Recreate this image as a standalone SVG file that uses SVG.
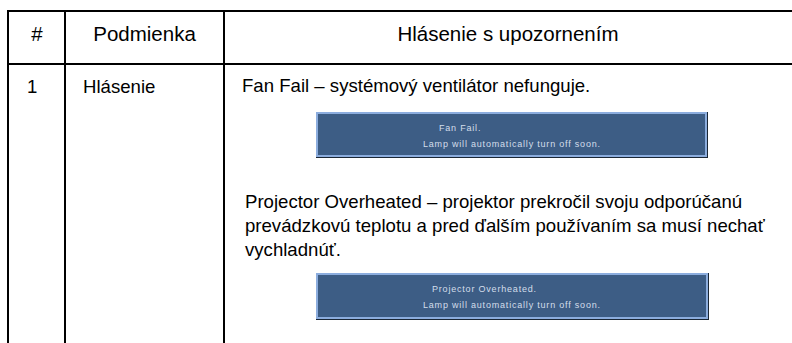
<svg xmlns="http://www.w3.org/2000/svg" width="792" height="343" viewBox="0 0 792 343">
<style>
.ln{stroke:#000;stroke-width:2;fill:none}
.hd{font-family:"Liberation Sans",Arial,sans-serif;font-size:20.5px;fill:#000;text-anchor:middle}
.bd{font-family:"Liberation Sans",Arial,sans-serif;font-size:18.6px;fill:#000}
.osd{font-family:"Liberation Sans",Arial,sans-serif;font-size:9px;letter-spacing:0.8px;fill:#d4deeb}
.boxo{fill:#1b2735}
.boxi{fill:#3d5d85;stroke:#8cadde;stroke-width:2}
</style>
<rect width="792" height="343" fill="#fff"/>
<g id="grid">
<line class="ln" x1="7" y1="11" x2="792" y2="11"/>
<line class="ln" x1="7" y1="64" x2="792" y2="64"/>
<line class="ln" x1="8" y1="10" x2="8" y2="343"/>
<line class="ln" x1="65" y1="10" x2="65" y2="343"/>
<line class="ln" x1="224" y1="10" x2="224" y2="343"/>
</g>
<g id="header">
<text class="hd" x="37" y="41">#</text>
<text class="hd" x="144.5" y="41">Podmienka</text>
<text class="hd" x="508" y="41">Hlásenie s upozornením</text>
</g>
<g id="row1">
<text class="bd" x="27" y="93">1</text>
<text class="bd" x="83" y="93">Hlásenie</text>
<text class="bd" x="242" y="92">Fan Fail – systémový ventilátor nefunguje.</text>
<text class="bd" x="245" y="208">Projector Overheated – projektor prekročil svoju odporúčanú</text>
<text class="bd" x="245" y="232">prevádzkovú teplotu a pred ďalším používaním sa musí nechať</text>
<text class="bd" x="245" y="256">vychladnúť.</text>
</g>
<g id="osd1">
<rect class="boxo" x="316" y="112" width="392" height="46"/>
<rect class="boxi" x="317" y="113" width="389" height="43"/>
<text class="osd" x="439" y="131">Fan Fail.</text>
<text class="osd" x="423" y="147">Lamp will automatically turn off soon.</text>
</g>
<g id="osd2">
<rect class="boxo" x="316" y="273" width="393" height="47"/>
<rect class="boxi" x="317" y="274" width="390" height="44"/>
<text class="osd" x="432" y="292">Projector Overheated.</text>
<text class="osd" x="423" y="308">Lamp will automatically turn off soon.</text>
</g>
</svg>
